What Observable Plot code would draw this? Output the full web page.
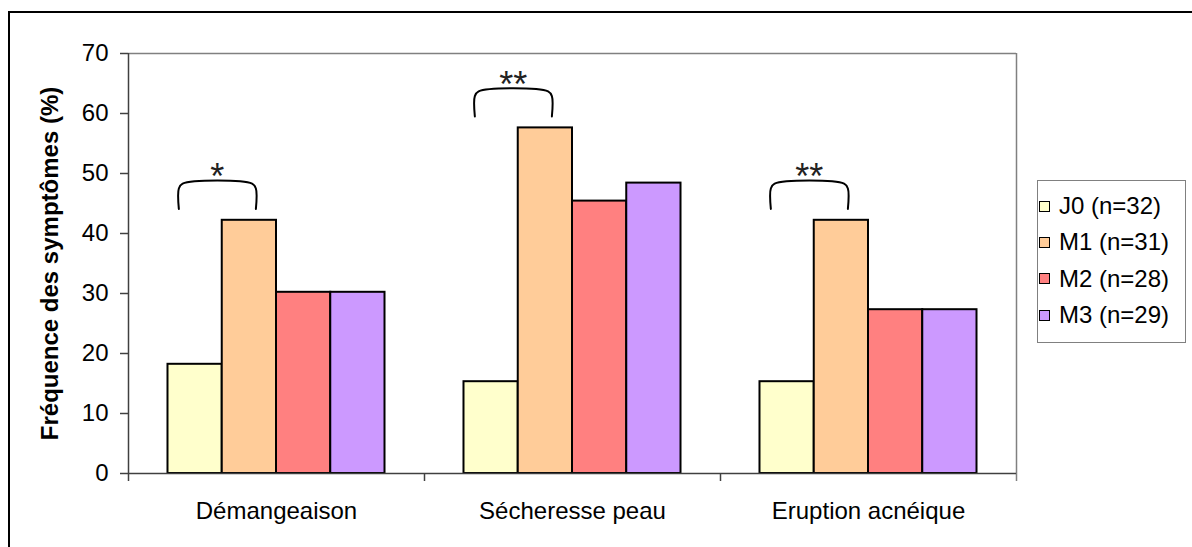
<!DOCTYPE html>
<html>
<head>
<meta charset="utf-8">
<script src="https://cdn.jsdelivr.net/npm/d3@7"></script>
<script src="https://cdn.jsdelivr.net/npm/@observablehq/plot@0.6"></script>
<style>
  html, body { margin: 0; padding: 0; background: #fff; }
  #wrap { position: relative; width: 1192px; height: 547px; overflow: hidden; font-family: "Liberation Sans", Arial, sans-serif; }
  #border { position: absolute; left: 8px; top: 11px; width: 1400px; height: 800px; border: 2.5px solid #000; box-sizing: border-box; pointer-events: none; }
  #chart { position: absolute; left: 0; top: 0; }
  #legend { position: absolute; left: 1037px; top: 180px; width: 149px; height: 163px; border: 1px solid #808080; box-sizing: border-box; padding-top: 7px; background: #fff; }
  .row { height: 36.3px; display: flex; align-items: center; font-size: 24px; color: #000; white-space: nowrap; }
  .sw { width: 9px; height: 9px; border: 1px solid #000; margin-left: 1px; margin-right: 9px; flex: none; }
</style>
</head>
<body>
<div id="wrap">
  <div id="chart"></div>
  <div id="legend"></div>
  <div id="border"></div>
</div>
<script>
// ---- data ----
const categories = ["Démangeaison", "Sécheresse peau", "Eruption acnéique"];
const series = ["J0 (n=32)", "M1 (n=31)", "M2 (n=28)", "M3 (n=29)"];
const J0 = [18.2, 15.3, 15.3];
const M1 = [42.2, 57.6, 42.2];
const M2 = [30.2, 45.4, 27.3];
const M3 = [30.2, 48.4, 27.3];
const colors = ["#FFFFCC", "#FFCC99", "#FF8080", "#CC99FF"];
const yTicks = [0, 10, 20, 30, 40, 50, 60, 70];
const signif = ["*", "**", "**"];
const yLabel = "Fréquence des symptômes (%)";

// ---- table ----
const seriesValues = [J0, M1, M2, M3];
const table = categories.flatMap((c, i) =>
  seriesValues.map((vals, s) => ({category: c, series: series[s], s, value: vals[i]}))
);

// within-facet layout (series index units)
const xMin = -0.728, xMax = 4.728;
const bracketL = 0.2, bracketR = 1.62;
const brackets = categories.map((c, i) => ({category: c, m: M1[i], sig: signif[i]}));
const bracketPts = brackets.flatMap(b => {
  const bot = b.m + 1.9, top = b.m + 6.1;
  return [[bracketL, bot], [bracketL, top - 0.8], [bracketL + 0.07, top],
          [bracketR - 0.07, top], [bracketR, top - 0.8], [bracketR, bot]]
    .map(([x, y]) => ({category: b.category, x, y}));
});

const axisColor = "#404040";
const frameColor = "#808080";

const chart = Plot.plot({
  width: 1192,
  height: 547,
  marginLeft: 127,
  marginRight: 176,
  marginTop: 53,
  marginBottom: 74,
  style: {fontFamily: "Liberation Sans, Arial, sans-serif", fontSize: "24px", background: "transparent", color: "#000"},
  fx: {domain: categories, padding: 0, label: null},
  x: {domain: [xMin, xMax], axis: null},
  y: {domain: [0, 70]},
  color: {domain: series, range: colors},
  marks: [
    Plot.ruleY([70], {stroke: frameColor, strokeWidth: 1.5}),
    Plot.ruleX(categories.slice(-1), {fx: d => d, x: xMax, y1: 70, y2: 0, insetBottom: -8, stroke: frameColor, strokeWidth: 1.5}),
    Plot.rectY(table, {fx: "category", x1: "s", x2: d => d.s + 1, y1: 0, y2: "value", fill: "series", stroke: "#000", strokeWidth: 2}),
    Plot.ruleY([0], {stroke: axisColor, strokeWidth: 1.5}),
    Plot.ruleX(categories.slice(0, 1), {fx: d => d, x: xMin, y1: 70, y2: 0, insetBottom: -8, stroke: axisColor, strokeWidth: 1.5}),
    Plot.ruleX(categories.slice(1), {fx: d => d, x: xMin, y1: 0, y2: 0, insetBottom: -8, stroke: axisColor, strokeWidth: 1.5}),
    Plot.line(bracketPts, {fx: "category", x: "x", y: "y", z: "category", stroke: "#000", strokeWidth: 2, curve: "catmull-rom"}),
    Plot.text(brackets, {fx: "category", x: (bracketL + bracketR) / 2, y: d => d.m + 6.1, text: "sig", dy: -6, fontSize: 36, fill: "#222"}),
    Plot.axisY({ticks: yTicks, tickSize: 8, tickPadding: 12, fontSize: 24, label: null, stroke: axisColor, strokeWidth: 1.5}),
    Plot.axisY({ticks: [], label: yLabel, labelAnchor: "center", labelArrow: false, labelOffset: 88, fontSize: 24, fontWeight: "bold"}),
    Plot.axisFx({anchor: "bottom", tickSize: 0, tickPadding: 28, fontSize: 24, label: null})
  ]
});
document.getElementById("chart").appendChild(chart);

// ---- legend ----
const legend = document.getElementById("legend");
series.forEach((name, i) => {
  const row = document.createElement("div");
  row.className = "row";
  const sw = document.createElement("span");
  sw.className = "sw";
  sw.style.background = colors[i];
  const t = document.createElement("span");
  t.textContent = name;
  row.appendChild(sw);
  row.appendChild(t);
  legend.appendChild(row);
});
</script>
</body>
</html>
